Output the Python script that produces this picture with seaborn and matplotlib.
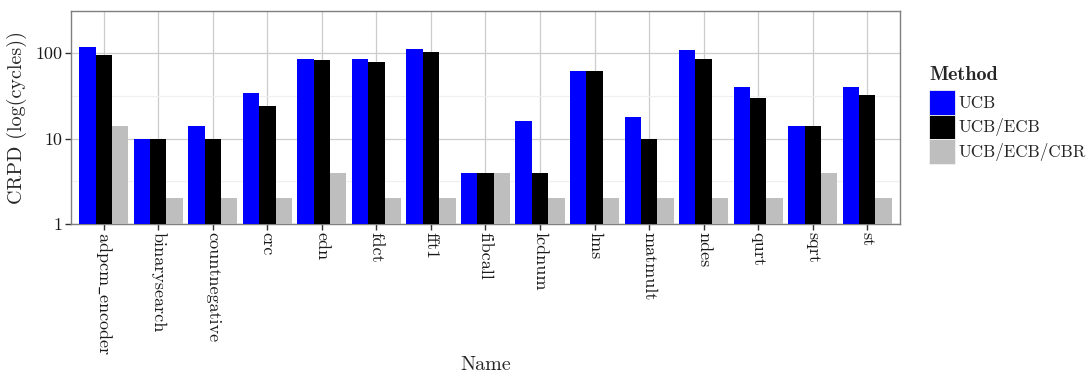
import matplotlib
matplotlib.use("Agg")
import matplotlib.pyplot as plt
from matplotlib.ticker import FixedLocator, FixedFormatter, NullFormatter
import numpy as np
import pandas as pd
import seaborn as sns

# Benchmarks and CRPD (cache-related preemption delay) per analysis method
names = ["adpcm_encoder", "binarysearch", "countnegative", "crc", "edn", "fdct",
         "fft1", "fibcall", "lcdnum", "lms", "matmult", "ndes", "qurt", "sqrt", "st"]
methods = ["UCB", "UCB/ECB", "UCB/ECB/CBR"]
ucb = [117, 10, 14, 34, 85, 85, 111, 4, 16, 62, 18, 108, 40, 14, 40]
ucb_ecb = [95, 10, 10, 24, 83, 78, 103, 4, 4, 62, 10, 85, 30, 14, 32]
ucb_ecb_cbr = [14, 2, 2, 2, 4, 2, 2, 4, 2, 2, 2, 2, 2, 4, 2]
y_ticks = [1, 10, 100]
y_tick_labels = ["1", "10", "100"]

colors = {"UCB": "#0000FF", "UCB/ECB": "#000000", "UCB/ECB/CBR": "#BEBEBE"}

df = pd.DataFrame({
    "Name": names * 3,
    "Method": [m for m in methods for _ in names],
    "CRPD": ucb + ucb_ecb + ucb_ecb_cbr,
})

sns.set_theme(style="white")
plt.rcParams["font.family"] = ["cmr10", "DejaVu Serif"]
plt.rcParams["axes.formatter.use_mathtext"] = True
plt.rcParams["mathtext.fontset"] = "cm"

TICK_FS = 13
TITLE_FS = 14.5
LEG_FS = 12.3


def tex_label(s):
    # cmr10 has no plain underscore glyph; typeset such names through mathtext
    if "_" in s:
        return r"$\mathrm{" + s.replace("_", r"\_") + "}$"
    return s


fig = plt.figure(figsize=(10.91, 3.76), dpi=100)
ax = fig.add_axes([71 / 1091, 1 - 224 / 376, (900 - 71) / 1091, (224 - 11) / 376])
ax.set_yscale("log")

sns.barplot(data=df, x="Name", y="CRPD", hue="Method", hue_order=methods,
            order=names, palette=colors, saturation=1, width=0.9,
            linewidth=0, errorbar=None, ax=ax, zorder=3)

ax.set_ylim(1, 310)
ax.set_xlim(-0.6, len(names) - 0.4)

# grid: major and faint minor lines on y, category lines on x
ax.yaxis.set_major_locator(FixedLocator(y_ticks))
ax.yaxis.set_major_formatter(FixedFormatter(y_tick_labels))
ax.yaxis.set_minor_locator(FixedLocator([10 ** 0.5, 10 ** 1.5, 10 ** 2.5]))
ax.yaxis.set_minor_formatter(NullFormatter())
ax.grid(True, which="major", axis="both", color="#CCCCCC", linewidth=0.9, zorder=0)
ax.grid(True, which="minor", axis="y", color="#F0F0F0", linewidth=0.9, zorder=0)
ax.set_axisbelow(True)

for s in ax.spines.values():
    s.set_visible(True)
    s.set_color("#7F7F7F")
    s.set_linewidth(1.0)

ax.tick_params(axis="both", which="major", direction="out", length=4, width=1,
               color="#333333", labelsize=TICK_FS, labelcolor="#1A1A1A", pad=2)
ax.tick_params(axis="y", which="minor", length=0)
ax.tick_params(axis="x", which="major", bottom=True)
ax.tick_params(axis="y", which="major", left=True)
ax.set_xticks(range(len(names)))
ax.set_xticklabels([tex_label(n) for n in names], rotation=-90, ha="center",
                   va="top", fontsize=TICK_FS)

ax.set_xlabel("Name", fontsize=TITLE_FS, va="center")
ax.xaxis.set_label_coords(0.5, (224 - 365) / 213)
ax.set_ylabel("CRPD (log(cycles))", fontsize=TITLE_FS, va="center")
ax.yaxis.set_label_coords((17 - 71) / 829, 0.5)

leg = ax.legend(title="Method", loc="upper left",
                bbox_to_anchor=(929 / 1091, 1 - 66 / 376),
                bbox_transform=fig.transFigure,
                frameon=False, fontsize=LEG_FS, handlelength=1.52, handleheight=1.87,
                labelspacing=0.0, handletextpad=0.2, borderaxespad=0,
                borderpad=0)
leg.get_title().set_fontfamily("cmb10")
leg.get_title().set_fontsize(TITLE_FS)
leg._legend_box.align = "left"
leg._legend_box.sep = 4
for h in leg.legend_handles:
    h.set_edgecolor("#F2F2F2")
    h.set_linewidth(0.6)

fig.savefig("out.png", dpi=100)
